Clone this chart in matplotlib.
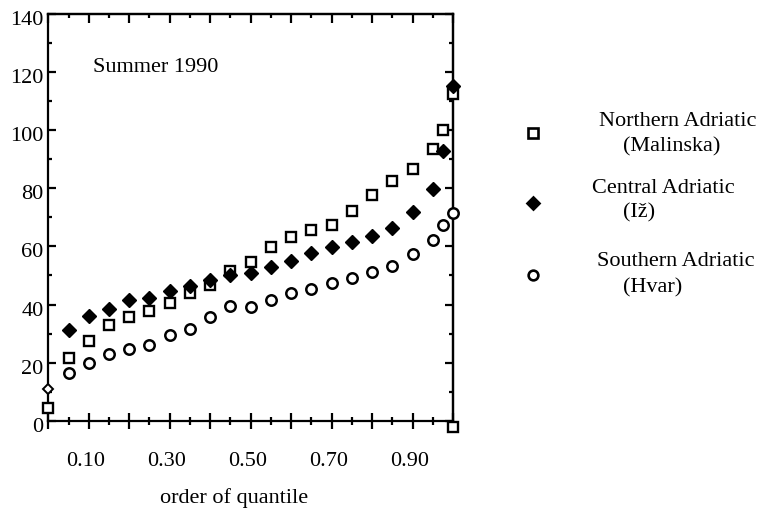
import numpy as np
import matplotlib
matplotlib.use("Agg")
import matplotlib.pyplot as plt
from matplotlib.ticker import MultipleLocator
from matplotlib.transforms import ScaledTranslation

plt.rcParams['font.family'] = ['Liberation Serif', 'DejaVu Serif']

# order of quantile (the plotted positions)
quantile = [0.0, 0.05, 0.10, 0.15, 0.20, 0.25, 0.30, 0.35, 0.40, 0.45, 0.50,
            0.55, 0.60, 0.65, 0.70, 0.75, 0.80, 0.85, 0.90, 0.95, 0.975, 1.0]

# Northern Adriatic (Malinska)
north = [4.4, 21.5, 27.4, 33.0, 35.7, 37.6, 40.5, 43.9, 46.6, 51.5, 54.7,
         59.7, 63.4, 65.7, 67.2, 72.1, 77.7, 82.6, 86.6, 93.5, 100.2, 112.4]
north_extra_q = [1.0]
north_extra = [-2.0]

# Central Adriatic (Iz) - first point drawn open
central_q0 = [0.0]
central0 = [10.8]
central = [31.1, 35.9, 38.6, 41.4, 42.3, 44.6, 46.2, 48.4, 50.0, 50.7,
           52.9, 55.0, 57.7, 59.7, 61.4, 63.7, 66.5, 72.0, 79.8, 92.7, 115.3]

# Southern Adriatic (Hvar)
south = [16.4, 20.0, 22.9, 24.6, 25.9, 29.4, 31.7, 35.6, 39.4, 39.2,
         41.4, 44.1, 45.4, 47.4, 49.2, 51.1, 53.4, 57.5, 62.3, 67.2, 71.5]

x_ticks = [0.0, 0.1, 0.2, 0.3, 0.4, 0.5, 0.6, 0.7, 0.8, 0.9, 1.0]
x_labels = ["", "0.10", "", "0.30", "", "0.50", "", "0.70", "", "0.90", ""]

fig = plt.figure(figsize=(7.62, 5.11), dpi=100)
ax = fig.add_axes([0.0634, 0.1767, 0.5311, 0.7959])

sq = dict(marker='s', ms=7.5, mfc='white', mec='black', mew=1.7, ls='none', clip_on=False, zorder=3)
dm = dict(marker='D', ms=7.3, mfc='black', mec='black', mew=1, ls='none', clip_on=False, zorder=4)
ci = dict(marker='o', ms=7.5, mfc='white', mec='black', mew=1.8, ls='none', clip_on=False, zorder=3)

ax.plot(quantile, north, **sq)
ax.plot(north_extra_q, north_extra, **sq)
ax.plot(quantile[1:], central, **dm)
ax.plot(central_q0, central0, marker='D', ms=5.5, mfc='white', mec='black', mew=1.4,
        ls='none', clip_on=False, zorder=4)
ax.plot(quantile[1:], south, **ci)

ax.set_xlim(0, 1)
ax.set_ylim(0, 140)

for s in ax.spines.values():
    s.set_linewidth(1.6)

# bottom axis
ax.set_xticks(x_ticks)
ax.set_xticklabels(x_labels)
ax.xaxis.set_minor_locator(MultipleLocator(0.05))
ax.tick_params(axis='x', which='major', direction='inout', length=11.5, width=1.6,
               labelsize=16, pad=17, top=False)
ax.tick_params(axis='x', which='minor', direction='inout', length=6, width=1.6, top=False)

# left axis
ax.yaxis.set_major_locator(MultipleLocator(20))
ax.yaxis.set_minor_locator(MultipleLocator(10))
ax.tick_params(axis='y', which='major', direction='in', length=6, width=1.6,
               labelsize=16, pad=3.5, right=False)
ax.tick_params(axis='y', which='minor', direction='in', length=3, width=1.6, right=False)
shift = ScaledTranslation(0, -4 / 100, fig.dpi_scale_trans)
for lab in ax.get_yticklabels():
    lab.set_transform(lab.get_transform() + shift)
shift_x = ScaledTranslation(-3 / 100, 0, fig.dpi_scale_trans)
for lab in ax.get_xticklabels():
    lab.set_transform(lab.get_transform() + shift_x)

# top and right ticks
top = ax.secondary_xaxis('top')
top.set_xticks(x_ticks)
top.xaxis.set_minor_locator(MultipleLocator(0.05))
top.tick_params(which='major', direction='in', length=6.5, width=1.6, labeltop=False)
top.tick_params(which='minor', direction='in', length=3, width=1.6)
top.spines['top'].set_linewidth(1.6)

right = ax.secondary_yaxis('right')
right.yaxis.set_major_locator(MultipleLocator(20))
right.yaxis.set_minor_locator(MultipleLocator(10))
right.tick_params(which='major', direction='in', length=5.5, width=1.6, labelright=False)
right.tick_params(which='minor', direction='in', length=3, width=1.6)
right.spines['right'].set_linewidth(1.6)

ax.set_xlabel("order of quantile", fontsize=16)
ax.xaxis.set_label_coords(0.458, -0.165)

ax.text(0.11, 120, "Summer 1990", fontsize=16, ha='left', va='baseline')

# legend drawn beside the axes
leg = [
    ('s', 'white', 0.7067, [("Northern Adriatic", 1.556, 0.7352), ("(Malinska)", 1.541, 0.6737)]),
    ('D', 'black', 0.5346, [("Central Adriatic", 1.519, 0.5714), ("(Iž)", 1.460, 0.510)]),
    ('o', 'white', 0.3583, [("Southern Adriatic", 1.551, 0.391), ("(Hvar)", 1.493, 0.3255)]),
]
for mk, fc, my, lines in leg:
    ax.plot([1.198], [my], marker=mk, ms=7 if mk != 'D' else 6.5, mfc=fc, mec='black',
            mew=1.9, ls='none', transform=ax.transAxes, clip_on=False)
    for txt, tx, ty in lines:
        ax.text(tx, ty, txt, fontsize=16, ha='center', va='center', transform=ax.transAxes)

fig.savefig("out.png", dpi=100)
